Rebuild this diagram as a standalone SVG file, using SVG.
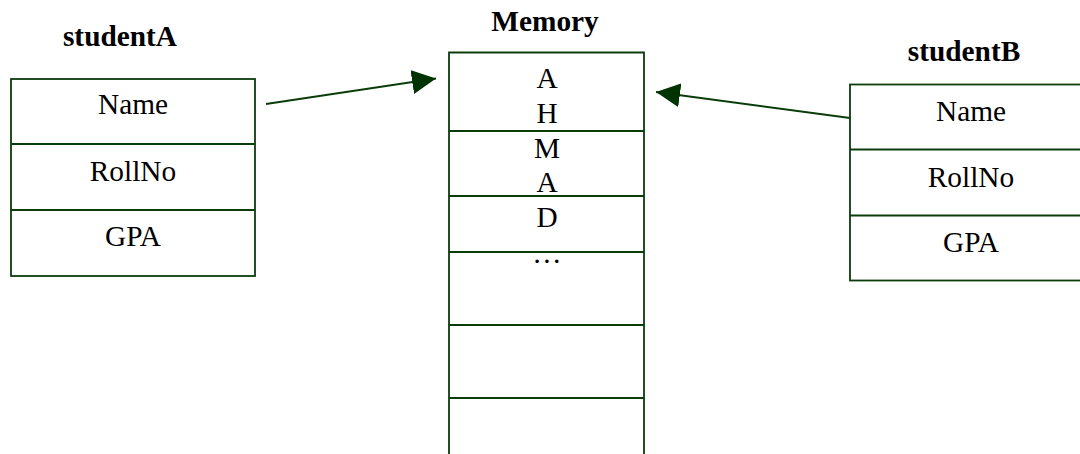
<svg xmlns="http://www.w3.org/2000/svg" width="1080" height="454" viewBox="0 0 1080 454">
<style>
.box{fill:none;stroke:#0b3d0b;stroke-width:1.8}
.t{font-family:"Liberation Serif","Times New Roman",serif;font-size:29.33px;fill:#000;text-anchor:middle}
.b{font-weight:bold}
.conn{stroke:#0b3d0b;stroke-width:2;fill:none}
</style>
<defs>
<marker id="ah" viewBox="0 0 24 24" refX="24" refY="12" markerWidth="24" markerHeight="24" markerUnits="userSpaceOnUse" orient="auto">
<path d="M0,0 L24,12 L0,24 z" fill="#003300"/>
</marker>
</defs>
<rect width="1080" height="454" fill="#fff"/>
<g id="studentA">
<text class="t b" x="120" y="46">studentA</text>
<rect class="box" x="11" y="79" width="244" height="197"/>
<line class="box" x1="11" y1="144" x2="255" y2="144"/>
<line class="box" x1="11" y1="210" x2="255" y2="210"/>
<text class="t" x="133" y="114">Name</text>
<text class="t" x="133" y="181">RollNo</text>
<text class="t" x="133" y="246">GPA</text>
</g>
<g id="memory">
<text class="t b" x="545" y="31">Memory</text>
<path class="box" d="M449,460 L449,52.5 L644,52.5 L644,460"/>
<line class="box" x1="449" y1="131" x2="644" y2="131"/>
<line class="box" x1="449" y1="196" x2="644" y2="196"/>
<line class="box" x1="449" y1="252" x2="644" y2="252"/>
<line class="box" x1="449" y1="325" x2="644" y2="325"/>
<line class="box" x1="449" y1="398" x2="644" y2="398"/>
<text class="t" x="547" y="88">A</text>
<text class="t" x="547" y="123">H</text>
<text class="t" x="547" y="158">M</text>
<text class="t" x="547" y="192">A</text>
<text class="t" x="547" y="227">D</text>
<text class="t" x="547" y="263">…</text>
</g>
<g id="studentB">
<text class="t b" x="964" y="61">studentB</text>
<rect class="box" x="850" y="84.5" width="240" height="196"/>
<line class="box" x1="850" y1="149.5" x2="1090" y2="149.5"/>
<line class="box" x1="850" y1="215.5" x2="1090" y2="215.5"/>
<text class="t" x="971" y="121">Name</text>
<text class="t" x="971" y="187">RollNo</text>
<text class="t" x="971" y="252">GPA</text>
</g>
<g id="connectors">
<line class="conn" x1="266" y1="104" x2="436" y2="78.5" marker-end="url(#ah)"/>
<line class="conn" x1="850" y1="118" x2="656" y2="92" marker-end="url(#ah)"/>
</g>
</svg>
